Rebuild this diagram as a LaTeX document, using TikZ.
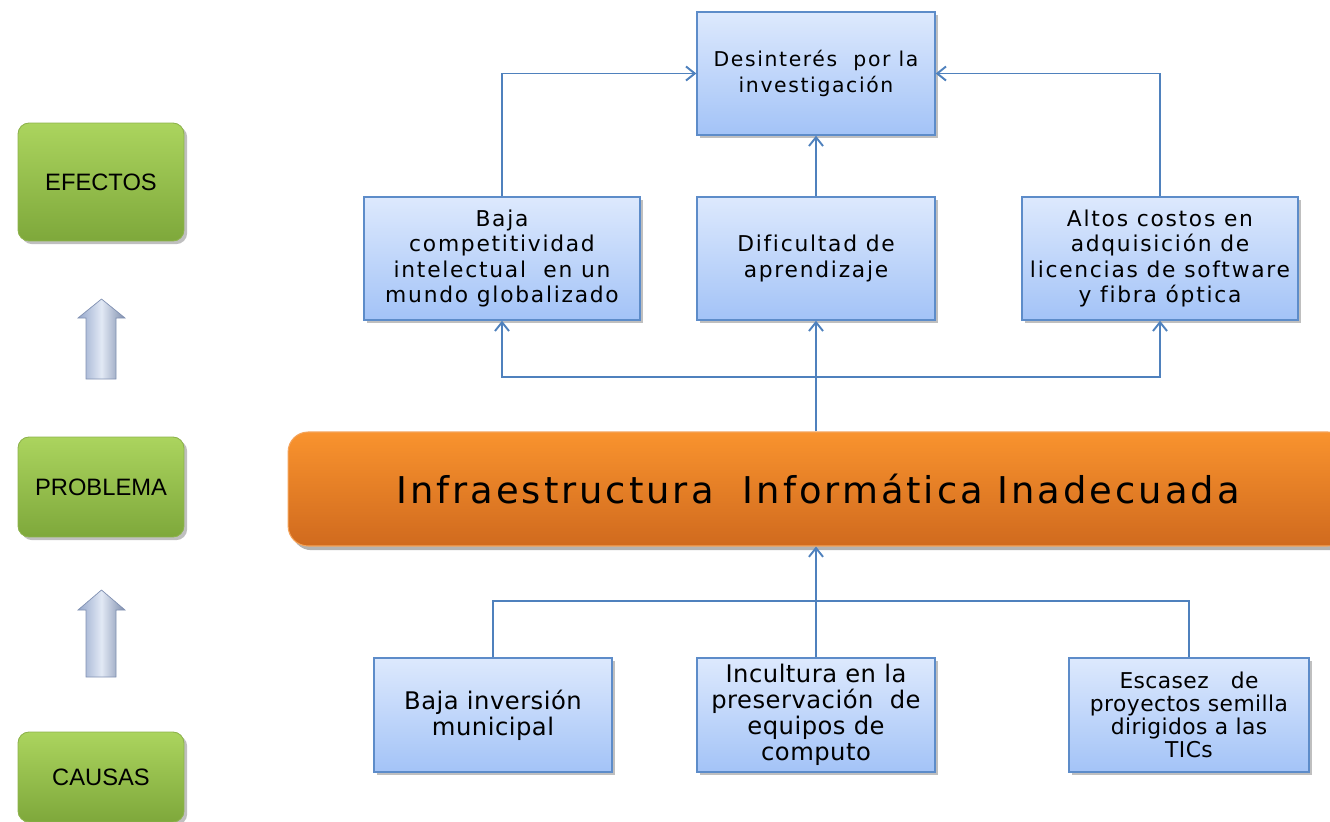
\documentclass[tikz,border=0pt]{standalone}
\usepackage{fontspec}
\setmainfont{DejaVu Sans}
\newfontfamily\boxfont[LetterSpace=8,Ligatures=CommonOff]{DejaVu Sans}
\newfontfamily\lowfont[LetterSpace=2,Ligatures=CommonOff]{DejaVu Sans}
\newfontfamily\barfont[LetterSpace=8]{DejaVu Sans}
\newfontfamily\sidefont{Liberation Sans}
\usetikzlibrary{arrows.meta,shadows}

\definecolor{connblue}{HTML}{4F81BD}
\definecolor{boxtop}{HTML}{DDE9FD}
\definecolor{boxbot}{HTML}{A3C3F7}
\definecolor{boxline}{HTML}{5D8CC9}
\definecolor{greentop}{HTML}{ABD45E}
\definecolor{greenbot}{HTML}{7EA83B}
\definecolor{greenline}{HTML}{8DB24C}
\definecolor{orangetop}{HTML}{F9932E}
\definecolor{orangebot}{HTML}{D06A1E}
\definecolor{orangeline}{HTML}{F4A35A}
\definecolor{arrowmid}{HTML}{E2E9F5}
\definecolor{arrowside}{HTML}{95A7CB}
\definecolor{arrowline}{HTML}{8191B2}

\tikzset{
  effbox/.style={draw=boxline, line width=0.8pt, top color=boxtop, bottom color=boxbot,
    minimum width=4.76cm, minimum height=2.46cm, inner sep=2pt, align=center,
    font=\boxfont\fontsize{12.4}{14.3}\selectfont,
    drop shadow={shadow xshift=1.6pt, shadow yshift=-1.6pt, fill=black, opacity=0.25}},
  causebox/.style={effbox, minimum height=2.28cm, font=\lowfont\fontsize{13.8}{14.8}\selectfont},
  sidebox/.style={draw=greenline, line width=0.5pt, top color=greentop, bottom color=greenbot,
    rounded corners=0.22cm, minimum width=3.32cm, inner sep=2pt,
    font=\sidefont\fontsize{13.5}{16}\selectfont,
    drop shadow={shadow xshift=1.8pt, shadow yshift=-1.8pt, fill=black, opacity=0.25}},
  probbar/.style={draw=orangeline, line width=0.6pt, top color=orangetop, bottom color=orangebot,
    rounded corners=0.4cm, minimum width=21.2cm, minimum height=2.28cm,
    font=\barfont\fontsize{21}{24}\selectfont,
    drop shadow={shadow xshift=2pt, shadow yshift=-2.4pt, fill=black, opacity=0.3}},
  conn/.style={draw=connblue, line width=1.1pt, -{Straight Barb[length=5pt,width=8pt]}},
  link/.style={draw=connblue, line width=1.1pt},
  blockarrow/.style={left color=arrowside, right color=arrowside!85!black, middle color=arrowmid}
}

\begin{document}
\begin{tikzpicture}[x=0.02cm, y=-0.02cm]
  \useasboundingbox (0,0) rectangle (1330,822);

  % left column
  \node[sidebox, minimum height=2.36cm] (efectos) at (101,182) {EFECTOS};
  \node[sidebox, minimum height=2.0cm] (problema) at (101,487) {PROBLEMA};
  \node[sidebox, minimum height=1.8cm] (causas) at (101,777) {CAUSAS};

  \shade[blockarrow] (78,318) -- (101.5,299) -- (125,318) -- (116,318) -- (116,379)
    -- (86,379) -- (86,318) -- cycle;
  \draw[arrowline, line width=0.4pt] (78,318) -- (101.5,299) -- (125,318) -- (116,318)
    -- (116,379) -- (86,379) -- (86,318) -- cycle;
  \shade[blockarrow] (78,610) -- (101.5,590) -- (125,610) -- (116,610) -- (116,677)
    -- (86,677) -- (86,610) -- cycle;
  \draw[arrowline, line width=0.4pt] (78,610) -- (101.5,590) -- (125,610) -- (116,610)
    -- (116,677) -- (86,677) -- (86,610) -- cycle;

  % efectos
  \node[effbox, font=\boxfont\fontsize{11.6}{14.3}\selectfont] (desint) at (816,73.5)
    {Desinterés\ \ por la\\investigación};
  \node[effbox, minimum width=5.52cm] (bajacomp) at (502,258.5)
    {Baja\\competitividad\\intelectual\ \ en un\\mundo globalizado};
  \node[effbox] (dificultad) at (816,258.5) {Dificultad de\\aprendizaje};
  \node[effbox, minimum width=5.52cm] (altos) at (1160,258.5)
    {Altos costos en\\adquisición de\\licencias de software\\y fibra óptica};

  % problema
  \node[probbar] (infra) at (818,489) {Infraestructura\ \ Informática Inadecuada};

  % causas
  \node[causebox] (bajainv) at (493,715) {Baja inversión\\municipal};
  \node[causebox] (incultura) at (816,715) {Incultura en la\\preservación\ \ de\\equipos de\\computo};
  \node[causebox, minimum width=4.8cm, font=\lowfont\fontsize{12.4}{13.1}\selectfont] (escasez) at (1189,715)
    {Escasez\ \ \ de\\proyectos semilla\\dirigidos a las\\TICs};

  % connectors
  \draw[conn] (bajacomp.north) |- (desint.west);
  \draw[conn] (altos.north) |- (desint.east);
  \draw[conn] (dificultad.north) -- (desint.south);

  \coordinate (split) at (816,377);
  \draw[conn] (dificultad.south |- infra.north) -- (dificultad.south);
  \draw[conn] (split) -| (bajacomp.south);
  \draw[conn] (split) -| (altos.south);

  \coordinate (join) at (816,601);
  \draw[link] (bajainv.north) |- (join) -| (escasez.north);
  \draw[conn] (incultura.north) -- (incultura.north |- infra.south);

\end{tikzpicture}
\end{document}
